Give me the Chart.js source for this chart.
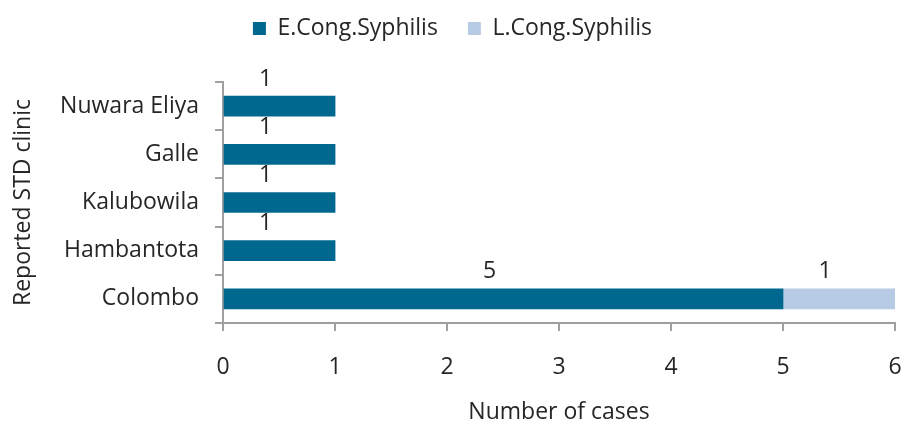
<!DOCTYPE html>
<html>
<head>
<meta charset="utf-8">
<script src="https://cdn.jsdelivr.net/npm/chart.js@4.4.1/dist/chart.umd.min.js"></script>
<style>
  html, body { margin: 0; padding: 0; background: #fff; }
  #wrap { width: 903px; height: 427px; }
</style>
</head>
<body>
<div id="wrap"><canvas id="chart" width="903" height="427"></canvas></div>
<script>
const clinics = ["Nuwara Eliya", "Galle", "Kalubowila", "Hambantota", "Colombo"];
const earlyCases = [1, 1, 1, 1, 5];
const lateCases = [0, 0, 0, 0, 1];
const xTicks = [0, 1, 2, 3, 4, 5, 6];

const FONT = "'Open Sans'";
const SIZE = 23;
const TEXT = "#262626";
const AXIS = "#a0a0a0";

/* ++++++++++ DATA LABELS ++++++++++ */
const barLabels = {
  id: "barLabels",
  afterDatasetsDraw(chart) {
    const ctx = chart.ctx;
    ctx.save();
    ctx.font = `${SIZE}px ${FONT}`;
    ctx.fillStyle = TEXT;
    ctx.textAlign = "center";
    ctx.textBaseline = "middle";
    chart.data.datasets.forEach((ds, i) => {
      const meta = chart.getDatasetMeta(i);
      meta.data.forEach((bar, j) => {
        const v = ds.data[j];
        if (!v) return;
        const cx = (bar.x + bar.base) / 2 - 14;
        const cy = bar.y - bar.height / 2 - 17;
        ctx.fillText(String(v), cx, cy);
      });
    });
    ctx.restore();
  }
};

// push the plot down below the legend
const legendGap = {
  id: "legendGap",
  beforeInit(chart) {
    const fit = chart.legend.fit;
    chart.legend.fit = function () {
      fit.bind(chart.legend)();
      this.height = 95;
    };
  }
};

const ctx = document.getElementById("chart").getContext("2d");
new Chart(ctx, {
  type: "bar",
  data: {
    labels: clinics,
    datasets: [
      { label: "E.Cong.Syphilis", data: earlyCases, backgroundColor: "#00688f" },
      { label: "L.Cong.Syphilis", data: lateCases, backgroundColor: "#b7cce4" }
    ]
  },
  options: {
    indexAxis: "y",
    responsive: false,
    animation: false,
    layout: { padding: { left: 10, right: 8, top: -13, bottom: 1 } },
    datasets: { bar: { barThickness: 20 } },
    scales: {
      x: {
        stacked: true,
        min: 0,
        max: 6,
        afterBuildTicks: (axis) => { axis.ticks = xTicks.map(v => ({ value: v })); },
        border: { color: AXIS, width: 2 },
        grid: { drawOnChartArea: false, drawTicks: true, tickLength: 8, color: AXIS, lineWidth: 2 },
        ticks: { color: TEXT, font: { family: FONT, size: SIZE }, padding: 23 },
        title: { display: true, text: "Number of cases", color: TEXT, font: { family: FONT, size: SIZE }, padding: 0 },
        afterFit: (axis) => { axis.height = 103; axis.paddingRight = 0; }
      },
      y: {
        stacked: true,
        border: { color: AXIS, width: 2 },
        grid: { drawOnChartArea: false, drawTicks: true, tickLength: 8, color: AXIS, lineWidth: 2, offset: true },
        ticks: { color: TEXT, font: { family: FONT, size: SIZE }, padding: 16 },
        title: { display: true, text: "Reported STD clinic", color: TEXT, font: { family: FONT, size: SIZE }, padding: 0 },
        afterFit: (axis) => { axis.width = 213; }
      }
    },
    plugins: {
      legend: {
        position: "top",
        labels: {
          color: TEXT,
          font: { family: FONT, size: SIZE },
          boxWidth: 13,
          boxHeight: 13,
          padding: 30
        }
      },
      tooltip: { enabled: false }
    }
  },
  plugins: [barLabels, legendGap]
});
</script>
</body>
</html>
